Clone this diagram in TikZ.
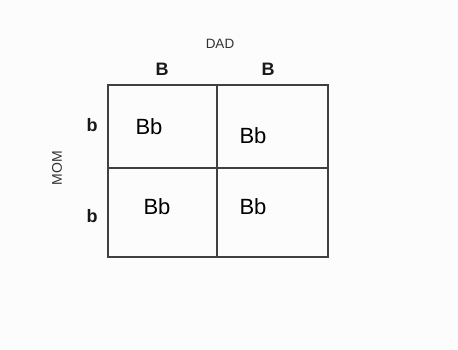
\documentclass[tikz,border=0pt]{standalone}
\usepackage{fontspec}
\setmainfont{Liberation Sans}
\begin{document}
\begin{tikzpicture}[x=1pt,y=-1pt,
  grid/.style={draw=black!75,line width=1.3pt},
  cell/.style={font=\fontsize{22}{24}\selectfont,text=black,inner sep=0pt},
  allele/.style={font=\bfseries\fontsize{18}{20}\selectfont,text=black!90,inner sep=0pt},
  parent/.style={font=\fontsize{13.5}{15}\selectfont,text=black!80,inner sep=0pt}]
\useasboundingbox[fill=black!1] (0,0) rectangle (458,349);
\coordinate (tl) at (108,85);
\coordinate (br) at (328,257);
\draw[grid] (tl) rectangle (br);
\coordinate (vt) at (217,85);
\coordinate (vb) at (217,257);
\coordinate (hl) at (108,168);
\coordinate (hr) at (328,168);
\draw[grid] (vt) -- (vb);
\draw[grid] (hl) -- (hr);
\node[parent] (dad) at (220,44) {DAD};
\node[parent,rotate=90,font=\fontsize{14}{15}\selectfont] (mom) at (57,168) {MOM};
\node[allele] (B1) at (162,69) {B};
\node[allele] (B2) at (268,69) {B};
\node[allele] (b1) at (92,125) {b};
\node[allele] (b2) at (92,216) {b};
\node[cell] (c11) at (149,127) {Bb};
\node[cell] (c12) at (253,136) {Bb};
\node[cell] (c21) at (157,207) {Bb};
\node[cell] (c22) at (253,207) {Bb};
\end{tikzpicture}
\end{document}
